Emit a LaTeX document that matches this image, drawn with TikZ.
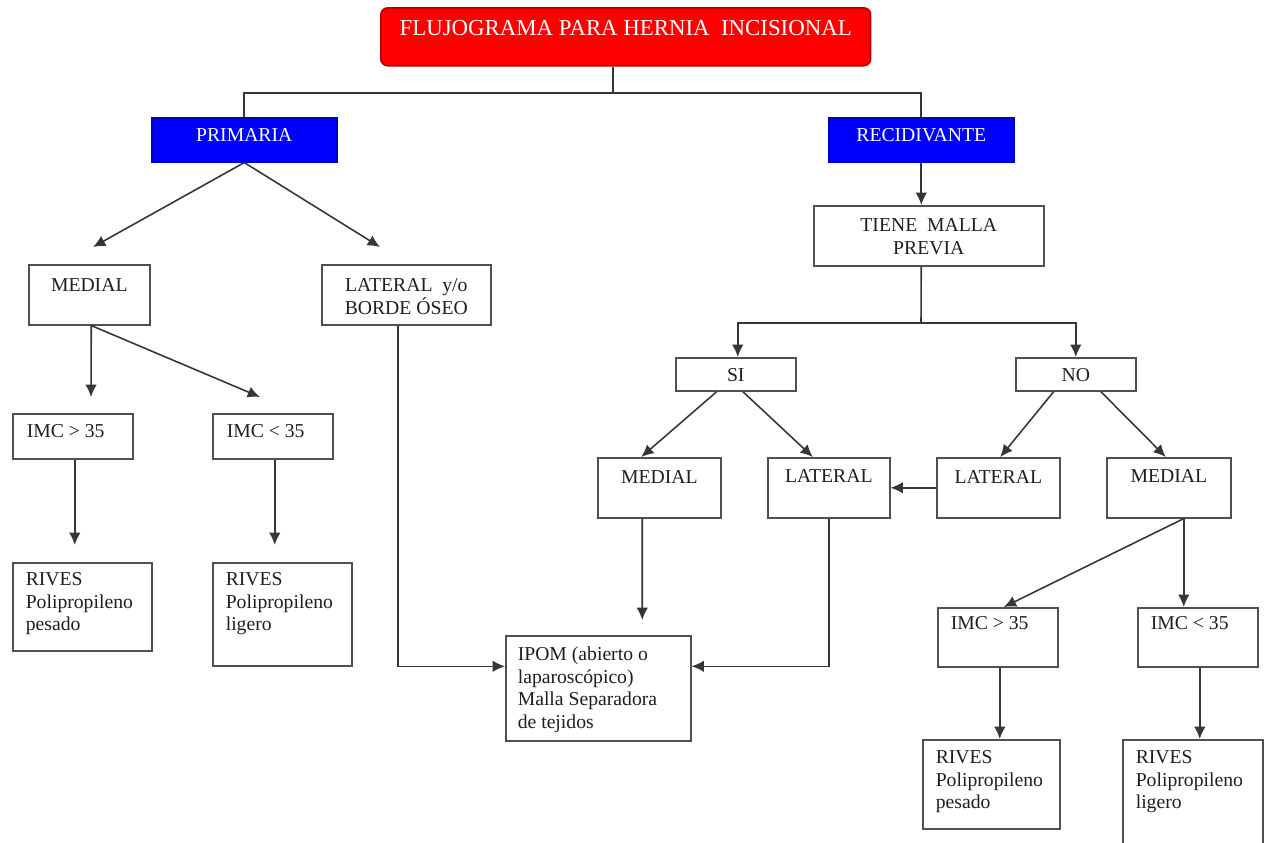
\documentclass[tikz,border=0pt]{standalone}
\usepackage{fontspec}
\setmainfont{Liberation Serif}
\usetikzlibrary{shapes,arrows.meta,calc}
\usepackage{xcolor}
\definecolor{lin}{HTML}{363636}
\definecolor{boxline}{HTML}{505050}
\definecolor{txt}{HTML}{1E1E1E}

\begin{document}
\begin{tikzpicture}[x=0.02cm, y=-0.02cm,
					box/.style={draw=boxline, line width=0.9pt, anchor=north west, inner ysep=0pt, text=txt, font=\fontsize{11.2pt}{12.8pt}\selectfont},
					cbox/.style={box, inner xsep=0pt, align=flush center},
					lbox/.style={box, align=flush left},
					head/.style={cbox, fill=blue, draw=blue!75!black, text=white},
					sz/.style n args={3}{text width=#1cm, text height=#2cm, text depth=#3cm},
					line/.style={draw=lin, line width=0.9pt},
					arr/.style={line, -{Latex[length=7pt,width=6.5pt]}}]
    \useasboundingbox (0,0) rectangle (1264,842);
    % Place nodes
    \node [cbox, fill=red, draw=red!70!black, rounded corners=4pt, text=white, font=\fontsize{13pt}{15pt}\selectfont, sz={9.8}{0.56}{0.60}] (title) at (380,7) {FLUJOGRAMA PARA HERNIA\ \ INCISIONAL};
    \node [head, sz={3.7}{0.48}{0.40}] (prim) at (151,117) {PRIMARIA};
    \node [head, sz={3.7}{0.48}{0.40}] (reci) at (828,117) {RECIDIVANTE};
    \node [cbox, sz={4.6}{0.52}{0.68}] (tiene) at (813,205) {TIENE\ \ MALLA\\PREVIA};
    % primaria
    \node [cbox, sz={2.42}{0.54}{0.66}] (med1) at (28,264) {MEDIAL};
    \node [cbox, sz={3.38}{0.54}{0.66}] (latbo) at (321,264) {LATERAL\ \ y/o\\BORDE ÓSEO};
    \node [lbox, inner xsep=0.28cm, sz={1.84}{0.48}{0.42}] (imc1) at (12,413) {IMC > 35};
    \node [lbox, inner xsep=0.28cm, sz={1.84}{0.48}{0.42}] (imc2) at (212,413) {IMC < 35};
    \node [lbox, inner xsep=0.26cm, sz={2.26}{0.46}{1.30}] (riv1) at (12,562) {RIVES\\Polipropileno\\pesado};
    \node [lbox, inner xsep=0.26cm, sz={2.26}{0.46}{1.60}] (riv2) at (212,562) {RIVES\\Polipropileno\\ligero};
    % recidivante
    \node [cbox, sz={2.4}{0.48}{0.18}] (si) at (675,357) {SI};
    \node [cbox, sz={2.4}{0.48}{0.18}] (no) at (1015,357) {NO};
    \node [cbox, sz={2.46}{0.52}{0.68}] (medm) at (597,457) {MEDIAL};
    \node [cbox, sz={2.44}{0.50}{0.70}] (latm) at (767,457) {LATERAL};
    \node [cbox, sz={2.46}{0.52}{0.68}] (lat2) at (936,457) {LATERAL};
    \node [cbox, sz={2.48}{0.50}{0.70}] (med2) at (1106,457) {MEDIAL};
    \node [lbox, inner xsep=0.24cm, sz={3.22}{0.50}{1.60}] (ipom) at (505,635) {IPOM (abierto o\\laparoscópico)\\Malla Separadora\\de tejidos};
    \node [lbox, inner xsep=0.26cm, sz={1.88}{0.44}{0.74}] (imc3) at (937,607) {IMC > 35};
    \node [lbox, inner xsep=0.26cm, sz={1.88}{0.44}{0.74}] (imc4) at (1137,607) {IMC < 35};
    \node [lbox, inner xsep=0.26cm, sz={2.22}{0.48}{1.30}] (riv3) at (922,739) {RIVES\\Polipropileno\\pesado};
    \node [lbox, inner xsep=0.26cm, sz={2.28}{0.48}{2.00}] (riv4) at (1122,739) {RIVES\\Polipropileno\\ligero};

    % Draw edges
    \coordinate (tj) at (613,93);
    \draw[line] (title.south -| tj) -- (tj);
    \draw[line] (prim.north) |- (tj) -| (reci.north);
    \draw[arr] (reci.south) -- (reci.south |- tiene.north);
    \coordinate (tb) at (921,323);
    \draw[line] (reci.south |- tiene.south) -- (tb);
    \draw[arr] (tb) -| ($(si.north)+(2,0)$);
    \draw[arr] (tb) -| (no.north);

    \coordinate (pm) at (93,247);
    \coordinate (pl) at (380,247);
    \draw[arr] (prim.south) -- (pm);
    \draw[arr] (prim.south) -- (pl);
    \coordinate (m1) at (91,397);
    \coordinate (m2) at (260,397);
    \draw[arr] ($(med1.south)+(2,0)$) -- (m1);
    \draw[arr] ($(med1.south)+(2,0)$) -- (m2);
    \draw[arr, shorten >=0.34cm] ($(imc1.south)+(2,0)$) -- ($(imc1.south |- riv1.north)+(2,0)$);
    \draw[arr, shorten >=0.34cm] ($(imc2.south)+(2,0)$) -- ($(imc2.south |- riv2.north)+(2,0)$);
    \draw[arr] ($(latbo.south)+(-8,0)$) |- ($(ipom.west)+(0,-22)$);

    \draw[arr] ($(si.south)+(-19,0)$) -- ($(medm.north)+(-18,0)$);
    \draw[arr] ($(si.south)+(7,0)$) -- ($(latm.north)+(-16,0)$);
    \draw[arr] ($(no.south)+(-22,0)$) -- ($(lat2.north)+(2,0)$);
    \draw[arr] ($(no.south)+(25,0)$) -- ($(med2.north)+(-3,0)$);
    \draw[arr] (lat2.west) -- (latm.east);
    \draw[arr, shorten >=0.3cm] ($(medm.south)+(-17,0)$) -- ($(ipom.north)+(44,0)$);
    \draw[arr] (latm.south) |- ($(ipom.east)+(0,-22)$);
    \draw[arr] ($(med2.south)+(15,0)$) coordinate (mb) -- ($(imc3.north)+(6,0)$);
    \draw[arr] (mb) -- (mb |- imc4.north);
    \draw[arr] ($(imc3.south)+(2,0)$) -- ($(imc3.south |- riv3.north)+(2,0)$);
    \draw[arr] ($(imc4.south)+(2,0)$) -- ($(imc4.south |- riv4.north)+(2,0)$);
\end{tikzpicture}
\end{document}
